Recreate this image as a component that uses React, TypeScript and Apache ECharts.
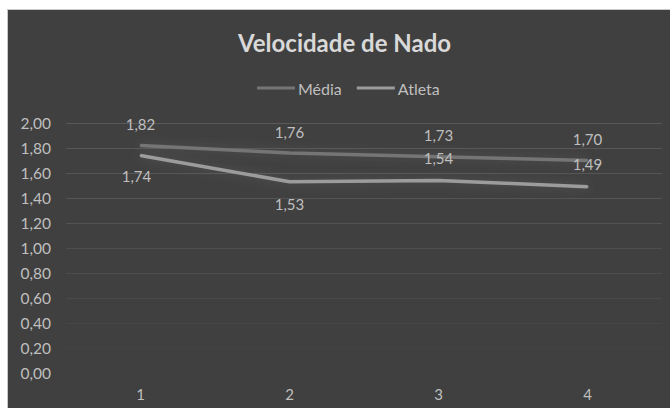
import React, { useEffect, useRef } from "react";
import * as echarts from "echarts";

const categories = ["1", "2", "3", "4"];
const mediaValues = [1.82, 1.76, 1.73, 1.70];
const atletaValues = [1.74, 1.53, 1.54, 1.49];
const atletaLabelPos = ["bottom", "bottom", "top", "top"];

const FONT = "Lato, 'Open Sans', sans-serif";
const fmt = (v: number) => v.toFixed(2).replace(".", ",");
const hGridColors = ["#414141", "#434343", "#464646", "#4a4a4a", "#4c4c4c", "#4e4e4e", "#525252", "#545454", "#565656", "#575757", "#595959"];

export default function App() {
  const ref = useRef<HTMLDivElement>(null);
  useEffect(() => {
    if (!ref.current) return;
    const chart = echarts.init(ref.current, undefined, { renderer: "svg" });
    chart.setOption({
      animation: false,
      backgroundColor: "#404040",
      textStyle: { fontFamily: FONT },
      title: {
        text: "Velocidade de Nado",
        left: 225,
        top: 15,
        textStyle: { color: "#d9d9d9", fontSize: 24, fontWeight: "bold", fontFamily: FONT },
      },
      legend: {
        top: 65,
        left: 244,
        itemWidth: 38,
        itemHeight: 3,
        itemGap: 15,
        icon: "rect",
        textStyle: { color: "#bfbfbf", fontSize: 16, padding: [0, 0, 0, -2] },
        data: ["Média", "Atleta"],
      },
      grid: { left: 58, right: 8, top: 113, bottom: 35 },
      xAxis: {
        type: "category",
        data: categories,
        boundaryGap: true,
        axisLine: { show: false },
        axisTick: { show: false },
        axisLabel: { color: "#bfbfbf", fontSize: 15, margin: 13 },
        splitLine: {
          show: true,
          lineStyle: {
            width: 1,
            color: new echarts.graphic.LinearGradient(0, 0, 0, 1, [
              { offset: 0, color: "#595959" },
              { offset: 0.5, color: "#505050" },
              { offset: 0.85, color: "#434343" },
              { offset: 1, color: "#404040" },
            ]),
          },
        },
      },
      yAxis: {
        type: "value",
        min: 0,
        max: 2,
        interval: 0.2,
        axisLine: { show: false },
        axisTick: { show: false },
        axisLabel: { color: "#bfbfbf", fontSize: 15.5, margin: 15, formatter: (v: number) => fmt(v) },
        splitLine: { lineStyle: { color: hGridColors, width: 1 } },
      },
      series: [
        {
          name: "Média",
          type: "line",
          z: 3,
          data: mediaValues,
          symbol: "circle",
          symbolSize: 2,
          showSymbol: true,
          lineStyle: { color: "#747474", width: 3.5, shadowColor: "rgba(120,120,120,0.35)", shadowBlur: 12 },
          itemStyle: { color: "#747474" },
          label: {
            show: true,
            position: "top",
            distance: 13,
            color: "#bfbfbf",
            fontSize: 15,
            formatter: (p: any) => fmt(p.value),
          },
        },
        {
          name: "Atleta",
          type: "line",
          z: 4,
          data: atletaValues.map((v, i) => ({
            value: v,
            label: { position: atletaLabelPos[i], offset: i === 0 ? [-4, -2] : [0, 0] },
          })),
          symbol: "circle",
          symbolSize: 2,
          showSymbol: true,
          lineStyle: { color: "#9c9c9c", width: 3.5, shadowColor: "rgba(150,150,150,0.3)", shadowBlur: 12 },
          itemStyle: { color: "#9c9c9c" },
          label: {
            show: true,
            distance: 14,
            color: "#bfbfbf",
            fontSize: 15,
            formatter: (p: any) => fmt(p.value),
          },
        },
      ],
    });
    return () => chart.dispose();
  }, []);
  return (
    <div
      ref={ref}
      style={{
        position: "absolute",
        left: 8,
        top: 10,
        width: 662,
        height: 398,
        boxShadow: "0 0 0 1px #c8c8c8",
      }}
    />
  );
}
